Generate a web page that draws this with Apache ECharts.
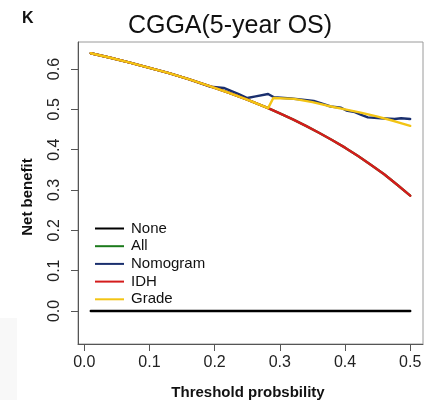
<!DOCTYPE html>
<html>
<head>
<meta charset="utf-8">
<script src="https://cdn.jsdelivr.net/npm/echarts@6/dist/echarts.min.js"></script>
<style>
  html, body { margin: 0; padding: 0; background: #fff; }
  #myChart { width: 436px; height: 400px; }
</style>
</head>
<body>
<div id="myChart"></div>
<script>
// tick labels
var xTicks = [0, 0.1, 0.2, 0.3, 0.4, 0.5];
var yTicks = [0, 0.1, 0.2, 0.3, 0.4, 0.5, 0.6];

// [threshold, net benefit]
var noneLine = [[0.01, 0], [0.5, 0]];
var allLine = [
    [0.01, 0.639], [0.04, 0.628], [0.07, 0.616], [0.10, 0.603], [0.13, 0.590],
    [0.16, 0.575], [0.19, 0.559], [0.22, 0.542], [0.25, 0.524], [0.282, 0.503],
    [0.30, 0.490], [0.32, 0.475], [0.34, 0.459], [0.36, 0.442], [0.38, 0.424],
    [0.40, 0.405], [0.42, 0.384], [0.44, 0.362], [0.46, 0.339], [0.48, 0.313],
    [0.50, 0.286]
];
var nomogramLine = [
    [0.01, 0.639], [0.04, 0.628], [0.07, 0.616], [0.10, 0.603], [0.13, 0.590],
    [0.16, 0.575], [0.194, 0.556], [0.214, 0.553], [0.225, 0.546], [0.237, 0.538],
    [0.250, 0.528], [0.263, 0.532], [0.282, 0.538], [0.291, 0.530], [0.317, 0.527],
    [0.335, 0.524], [0.352, 0.521], [0.365, 0.514], [0.378, 0.507], [0.394, 0.504],
    [0.402, 0.497], [0.415, 0.493], [0.425, 0.486], [0.435, 0.480], [0.455, 0.478],
    [0.476, 0.476], [0.486, 0.478], [0.50, 0.476]
];
var idhLine = [
    [0.01, 0.639], [0.04, 0.628], [0.07, 0.616], [0.10, 0.603], [0.13, 0.590],
    [0.16, 0.575], [0.19, 0.559], [0.22, 0.542], [0.25, 0.524], [0.282, 0.503],
    [0.30, 0.490], [0.32, 0.475], [0.34, 0.459], [0.36, 0.442], [0.38, 0.424],
    [0.40, 0.405], [0.42, 0.384], [0.44, 0.362], [0.46, 0.339], [0.48, 0.313],
    [0.50, 0.286]
];
var gradeLine = [
    [0.01, 0.639], [0.04, 0.628], [0.07, 0.616], [0.10, 0.603], [0.13, 0.590],
    [0.16, 0.575], [0.19, 0.559], [0.22, 0.542], [0.25, 0.524], [0.282, 0.503],
    [0.290, 0.528], [0.322, 0.526], [0.35, 0.518], [0.373, 0.509], [0.40, 0.500],
    [0.424, 0.492], [0.45, 0.482], [0.475, 0.471], [0.50, 0.459]
];

var FONT = '"Liberation Sans", Arial, Helvetica, sans-serif';

var chart = echarts.init(document.getElementById('myChart'), null, {renderer: 'canvas'});

function lineSeries(name, data, color) {
    return {
        name: name,
        type: 'line',
        data: data,
        showSymbol: false,
        symbol: 'none',
        animation: false,
        lineStyle: {color: color, width: 2.4, join: 'round', cap: 'round'},
        itemStyle: {color: color}
    };
}

var option = {
    backgroundColor: '#fff',
    animation: false,
    grid: {
        left: 78, right: 13, top: 42, bottom: 56,
        show: true,
        borderColor: '#9a9a9a',
        borderWidth: 1
    },
    legend: {
        orient: 'vertical',
        left: 90,
        top: 216,
        icon: 'rect',
        itemWidth: 29,
        itemHeight: 2,
        itemGap: 2.7,
        textStyle: {
            fontFamily: FONT,
            fontSize: 15,
            lineHeight: 15,
            color: '#111',
            padding: [0, 0, 0, 2]
        },
        data: ['None', 'All', 'Nomogram', 'IDH', 'Grade']
    },
    xAxis: {
        type: 'value',
        min: -0.0096,
        max: 0.5196,
        splitLine: {show: false},
        axisLine: {show: true, onZero: false, lineStyle: {color: '#555', width: 1}},
        axisTick: {show: true, length: 7, customValues: xTicks, lineStyle: {color: '#555'}},
        axisLabel: {
            customValues: xTicks,
            margin: 11,
            fontFamily: FONT,
            fontSize: 16,
            color: '#222',
            formatter: function (v) { return v.toFixed(1); }
        }
    },
    yAxis: {
        type: 'value',
        min: -0.082,
        max: 0.667,
        splitLine: {show: false},
        axisLine: {show: true, onZero: false, lineStyle: {color: '#555', width: 1}},
        axisTick: {show: true, length: 7, customValues: yTicks, lineStyle: {color: '#555'}},
        axisLabel: {
            customValues: yTicks,
            rotate: 90,
            margin: 15,
            fontFamily: FONT,
            fontSize: 16,
            color: '#222',
            formatter: function (v) { return v.toFixed(1); }
        }
    },
    graphic: [
        {type: 'rect', z: -1, shape: {x: 0, y: 318, width: 17, height: 82}, style: {fill: '#f8f8f8'}},
        {type: 'rect', z: 100, shape: {x: 423, y: 352, width: 13, height: 26}, style: {fill: '#fff'}},
        {type: 'text', x: 22, y: 19, style: {text: 'K', font: 'bold 16px ' + FONT, fill: '#111', textAlign: 'left', textVerticalAlign: 'middle'}},
        {type: 'text', x: 230, y: 26, style: {text: 'CGGA(5-year OS)', font: '25px ' + FONT, fill: '#111', textAlign: 'center', textVerticalAlign: 'middle'}},
        {type: 'text', x: 248, y: 393, style: {text: 'Threshold probsbility', font: 'bold 15px ' + FONT, fill: '#111', textAlign: 'center', textVerticalAlign: 'middle'}},
        {type: 'text', x: 28, y: 197, rotation: Math.PI / 2, style: {text: 'Net benefit', font: 'bold 15px ' + FONT, fill: '#111', textAlign: 'center', textVerticalAlign: 'middle'}}
    ],
    series: [
        lineSeries('None', noneLine, '#000000'),
        lineSeries('All', allLine, '#1b7a1b'),
        lineSeries('Nomogram', nomogramLine, '#1a2f6e'),
        lineSeries('IDH', idhLine, '#d41c1c'),
        lineSeries('Grade', gradeLine, '#f3c414')
    ]
};

chart.setOption(option);
</script>
</body>
</html>
